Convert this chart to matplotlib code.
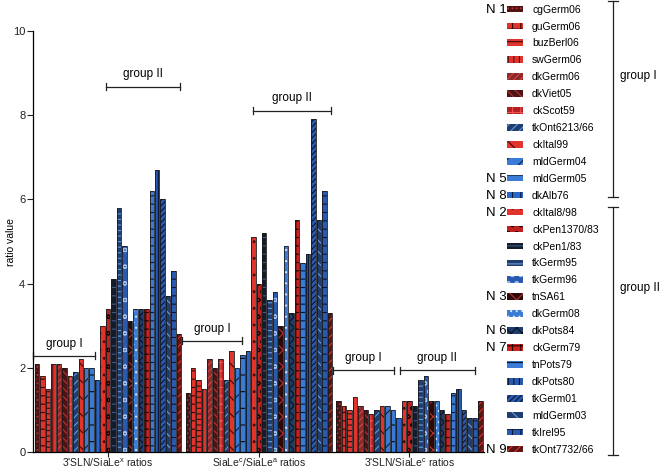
import matplotlib
matplotlib.use("Agg")
import matplotlib.pyplot as plt
from matplotlib.lines import Line2D
import numpy as np

plt.rcParams['font.family'] = ['Liberation Sans', 'DejaVu Sans']
plt.rcParams['mathtext.default'] = 'regular'
plt.rcParams['hatch.linewidth'] = 0.8

# ---------------- data ----------------
strains = ["cgGerm06", "guGerm06", "buzBerl06", "swGerm06", "dkGerm06", "dkViet05",
           "ckScot59", "tkOnt6213/66", "ckItal99", "mldGerm04", "mldGerm05", "dkAlb76",
           "ckItal8/98", "ckPen1370/83", "ckPen1/83", "tkGerm95", "tkGerm96", "tnSA61",
           "dkGerm08", "dkPots84", "ckGerm79", "tnPots79", "dkPots80", "tkGerm01",
           "mldGerm03", "tkIrel95", "tkOnt7732/66"]
n_labels = {"cgGerm06": "N 1", "mldGerm05": "N 5", "dkAlb76": "N 8", "ckItal8/98": "N 2",
            "tnSA61": "N 3", "dkPots84": "N 6", "ckGerm79": "N 7", "tkOnt7732/66": "N 9"}
categories = ["3'SLN/SiaLe$^{x}$ ratios", "SiaLe$^{c}$/SiaLe$^{a}$ ratios",
              "3'SLN/SiaLe$^{c}$ ratios"]
ratio_slnx = [2.1, 1.8, 1.5, 2.1, 2.1, 2.0, 1.8, 1.9, 2.2, 2.0, 2.0, 1.7,
              3.0, 3.4, 4.1, 5.8, 4.9, 3.1, 3.4, 3.4, 3.4, 6.2, 6.7, 6.0, 3.7, 4.3, 2.8]
ratio_lec_lea = [1.4, 2.0, 1.7, 1.5, 2.2, 2.0, 2.2, 1.7, 2.4, 2.0, 2.3, 2.4,
                 5.1, 4.0, 5.2, 3.6, 3.8, 3.0, 4.9, 3.3, 5.5, 4.5, 4.7, 7.9, 5.5, 6.2, 3.3]
ratio_slnc = [1.2, 1.1, 1.0, 1.3, 1.1, 1.0, 0.9, 1.0, 1.1, 1.1, 1.0, 0.8,
              1.2, 1.2, 1.1, 1.7, 1.8, 1.2, 1.2, 1.0, 0.9, 1.4, 1.5, 1.0, 0.8, 0.8, 1.2]
yticks = [0, 2, 4, 6, 8, 10]

# ---------------- styles (face, hatch, hatch colour) ----------------
DR, RD, BL, NV, DB = '#4a1414', '#e0342c', '#3a7bd5', '#141c2c', '#1f3d6e'
styles = [
    (DR, '....', '#c03030'), (RD, '++', '#2a0505'), (RD, '---', '#3a0a0a'),
    (RD, '|||', '#5a1010'), ('#8a2a2a', '/////', '#e04040'), (DR, '\\\\\\\\', '#c03030'),
    ('#b02020', '++', '#f05050'), (DB, '////', '#5a9ae0'), (RD, '\\\\', '#3a0a0a'),
    (BL, '//', '#10203a'), (BL, '-', '#0a0a0a'), ('#2a66c8', '||', '#0a1530'),
    (RD, '..', '#3a0a0a'), ('#c02020', 'oo', '#1a0505'), (NV, '--', '#3a5a90'),
    (DB, '---', '#6a9ae0'), ('#2a5ab0', 'oo', '#a0c0f0'), ('#2a0a0a', 'xx', '#c03030'),
    (BL, '...', '#d0e0ff'), (DB, 'xxx', '#0a1020'), ('#d02020', '++', '#2a0505'),
    (BL, '--', '#0a1530'), ('#2a5ab0', '|||', '#0a1530'), ('#2a5ab0', '//////', '#0a1530'),
    (DB, '\\\\\\', '#6a9ae0'), ('#2a5ab0', '++', '#0a1530'), ('#5a1515', '////', '#e03030'),
]

W, H = 660, 470
fig = plt.figure(figsize=(W / 100, H / 100), dpi=100)
pitch = 5.46
x0_px = 33
xl, xr = -0.75, 81.9
y0_px, y10_px = 452, 31
ax_w_px = (xr - xl) * pitch
ax = fig.add_axes([x0_px / W, (H - y0_px) / H, ax_w_px / W, (y0_px - y10_px) / H])

series = [ratio_slnx, ratio_lec_lea, ratio_slnc]
gstep = 27.6
handles = []
for i, name in enumerate(strains):
    vals = [s[i] for s in series]
    xs = [g * gstep + i for g in range(3)]
    fc, hatch, hc = styles[i]
    b = ax.bar(xs, vals, width=0.82, color=fc, hatch=hatch, edgecolor=hc, linewidth=0)
    ax.bar(xs, vals, width=0.82, fill=False, edgecolor='#1a1a1a', linewidth=0.6)
    handles.append(b)

ax.set_xlim(xl, xr)
ax.set_ylim(0, 10)
ax.set_yticks(yticks)
ax.set_yticklabels([str(v) for v in yticks], fontsize=8)
ax.set_xticks([g * gstep + 13 for g in range(3)])
ax.set_xticklabels(categories, fontsize=7.5)
ax.tick_params(axis='both', length=4, width=0.8, pad=1.5, colors='#222222')
ax.tick_params(axis='x', length=3.5, pad=0)
for s in ['top', 'right']:
    ax.spines[s].set_visible(False)
for s in ['left', 'bottom']:
    ax.spines[s].set_linewidth(0.9)
ax.set_ylabel('ratio value', fontsize=7.5)
ax.yaxis.set_label_coords((16 - x0_px) / ax_w_px, 0.5)


def bracket(x1, x2, y, label, ty):
    ax.plot([x1, x2], [y, y], color='#222222', lw=0.9, clip_on=False)
    for xx in (x1, x2):
        ax.plot([xx, xx], [y - 0.08, y + 0.08], color='#222222', lw=0.9, clip_on=False)
    ax.text((x1 + x2) / 2, ty, label, ha='center', va='center', fontsize=8.5)


bracket(-0.7, 10.6, 2.29, 'group I', 2.57)
bracket(12.6, 26.2, 8.68, 'group II', 8.97)
bracket(gstep - 1.0, gstep + 9.9, 2.64, 'group I', 2.93)
bracket(gstep + 12.0, gstep + 26.3, 8.11, 'group II', 8.40)
bracket(2 * gstep - 1.0, 2 * gstep + 10.2, 1.94, 'group I', 2.23)
bracket(2 * gstep + 11.2, 2 * gstep + 25.0, 1.94, 'group II', 2.23)

# ---------------- legend ----------------
leg = fig.legend(handles, strains, loc='upper left', bbox_to_anchor=(505 / W, 1 - 2.5 / H),
                 frameon=False, fontsize=7.5, handlelength=1.5, handleheight=0.6,
                 handletextpad=0.9, labelspacing=0.665, borderpad=0.2, borderaxespad=0)
fig.canvas.draw()
renderer = fig.canvas.get_renderer()
for txt, name in zip(leg.get_texts(), strains):
    if name in n_labels:
        bb = txt.get_window_extent(renderer)
        yc = (bb.y0 + bb.y1) / 2 / H
        fig.text(486 / W, yc, n_labels[name], ha='left', va='center', fontsize=9.5)

# right-hand group brackets
def vbracket(ytop, ybot, label, ylab):
    xl_ = 613 / W
    fig.add_artist(Line2D([xl_, xl_], [1 - ytop / H, 1 - ybot / H], color='#222222', lw=0.9))
    for yy in (ytop, ybot):
        fig.add_artist(Line2D([xl_ - 5 / W, xl_ + 5 / W], [1 - yy / H, 1 - yy / H],
                              color='#222222', lw=0.9))
    fig.text(620 / W, 1 - ylab / H, label, ha='left', va='center', fontsize=8.5)


vbracket(1, 197, 'group I', 76)
vbracket(207, 455, 'group II', 288)

fig.savefig('out.png', dpi=100)
